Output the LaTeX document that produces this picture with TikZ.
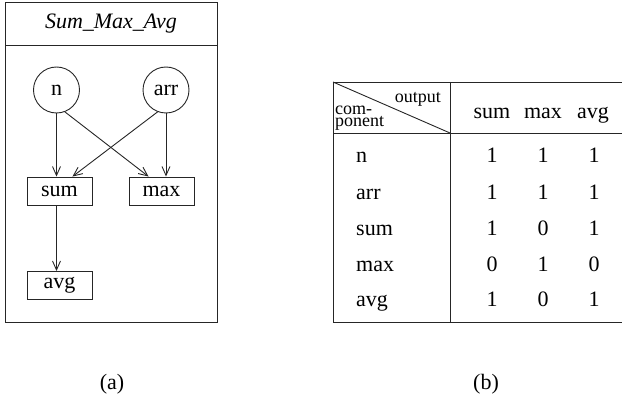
\documentclass[tikz,border=0pt]{standalone}
\usepackage{fontspec}
\setmainfont{Liberation Serif}
\usetikzlibrary{arrows.meta}
\begin{document}
\begin{tikzpicture}[x=1pt,y=-1pt,
  every node/.style={font=\fontsize{22}{26}\selectfont},
  ln/.style={line width=0.9pt,draw=black!85},
  arr/.style={ln,-{Straight Barb[length=9pt,width=8pt,line width=0.9pt]}},
  circ/.style={ln,circle,minimum size=46pt,inner sep=0pt},
  boxn/.style={ln,rectangle,minimum width=65pt,minimum height=28pt,inner sep=0pt},
  small/.style={font=\fontsize{18}{12}\selectfont,inner sep=0pt},
  cell/.style={inner sep=0pt}
]
\useasboundingbox (0,0) rectangle (622,398);
% (a) frame
\draw[ln] (5,2) rectangle (217,322);
\draw[ln] (5,45) -- (217,45);
\node (title) at (111,24) {\itshape Sum\_Max\_Avg};
\node[circ] (n) at (56.5,90) {n};
\node[circ] (arr) at (166,90) {arr};
\node[boxn] (sum) at (59.5,191) {sum};
\node[boxn] (max) at (161.5,191) {max};
\node[boxn] (avg) at (59.5,285.5) {avg};
\coordinate (maxin) at ([xshift=20pt]max.north west);
\coordinate (sumin) at ([xshift=-20pt]sum.north east);
\draw[arr] (n.south) -- (n.south |- sum.north);
\draw[arr] (arr.south) -- (arr.south |- max.north);
\draw[arr] (n.-69) -- (maxin);
\draw[arr] (arr.-111) -- (sumin);
\draw[arr] (sum.south -| n.south) -- (avg.north -| n.south);
% (b) table
\coordinate (tl) at (333,82);
\coordinate (tr) at (622,82);
\coordinate (bl) at (333,322);
\coordinate (br) at (622,322);
\coordinate (dt) at (450,82);
\coordinate (db) at (450,322);
\coordinate (hl) at (333,133);
\coordinate (hr) at (622,133);
\coordinate (hd) at (450,133);
\draw[ln] (tl) -- (tr);
\draw[ln] (bl) -- (br);
\draw[ln] (tl) -- (bl);
\draw[ln] (dt) -- (db);
\draw[ln] (hl) -- (hr);
\draw[ln] (tl) -- (hd);
\node[small,anchor=base east] (hout) at (441,103) {output};
\node[small,align=left,anchor=south west] (hcom) at (335,130.5) {com-\\ponent};
\node[cell,anchor=base] (hsum) at (492,119) {sum};
\node[cell,anchor=base] (hmax) at (543,119) {max};
\node[cell,anchor=base] (havg) at (593,119) {avg};
\foreach \lab/\yy/\a/\b/\c [count=\i] in {n/163/1/1/1, arr/200/1/1/1, sum/235.5/1/0/1, max/272/0/1/0, avg/307/1/0/1}{
  \node[cell,anchor=base west] (r\i) at (356,\yy) {\lab};
  \node[cell,anchor=base] (c\i a) at (492,\yy) {\a};
  \node[cell,anchor=base] (c\i b) at (543,\yy) {\b};
  \node[cell,anchor=base] (c\i c) at (594,\yy) {\c};
}
\node (capa) at (112,384) {(a)};
\node (capb) at (486,384) {(b)};
\end{tikzpicture}
\end{document}
